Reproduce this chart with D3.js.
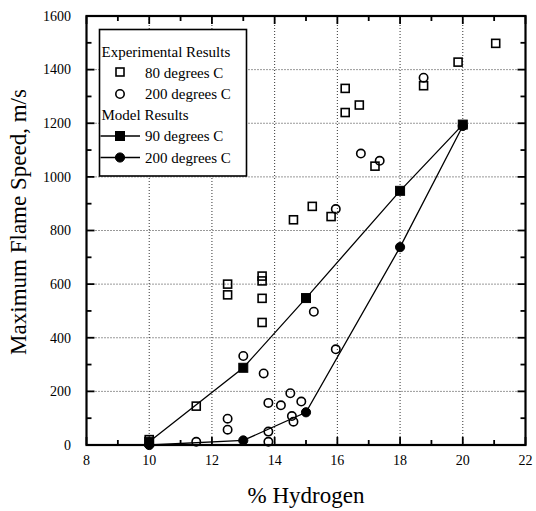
<!DOCTYPE html>
<html>
<head>
<meta charset="utf-8">
<script src="https://cdn.jsdelivr.net/npm/d3@7"></script>
<style>
  body { margin: 0; background: #fff; }
  svg { display: block; font-family: "Liberation Serif", "DejaVu Serif", serif; }
</style>
</head>
<body>
<div id="chart"></div>
<script>
// Experimental results, 80 degrees C (open squares)
const exp80X = [10, 11.5, 12.5, 12.5, 13.6, 13.6, 13.6, 13.6, 14.6, 15.2, 15.8, 16.25, 16.25, 16.7, 17.2, 18.75, 19.85, 21.05];
const exp80Y = [20, 145, 600, 560, 630, 612, 547, 457, 840, 890, 852, 1330, 1240, 1268, 1040, 1340, 1428, 1498];

// Experimental results, 200 degrees C (open circles)
const exp200X = [11.5, 12.5, 12.5, 13.0, 13.65, 13.8, 13.8, 13.8, 14.2, 14.5, 14.85, 14.55, 14.6, 15.25, 15.95, 15.95, 16.75, 17.35, 18.75];
const exp200Y = [12, 98, 57, 332, 267, 157, 50, 12, 148, 193, 162, 108, 87, 497, 357, 880, 1087, 1060, 1370];

// Model results
const model90X = [10, 13, 15, 18, 20];
const model90Y = [12, 288, 548, 948, 1195];
const model200X = [10, 13, 15, 18, 20];
const model200Y = [0, 17, 122, 738, 1190];

const xMajor = [8, 10, 12, 14, 16, 18, 20, 22];
const xMinor = [9, 11, 13, 15, 17, 19, 21];
const yMajor = [0, 200, 400, 600, 800, 1000, 1200, 1400, 1600];
const yMinor = [100, 300, 500, 700, 900, 1100, 1300, 1500];

const W = 536, H = 511;
const pL = 86.5, pR = 525.5, pT = 16, pB = 445;

const svg = d3.select("#chart").append("svg")
    .attr("width", W)
    .attr("height", H);

const x = d3.scaleLinear().domain([8, 22]).range([pL, pR]);
const y = d3.scaleLinear().domain([0, 1600]).range([pB, pT]);

// dotted grid
const grid = svg.append("g")
    .attr("stroke", "#333")
    .attr("stroke-width", 1)
    .attr("stroke-dasharray", "1,2");
grid.selectAll(".gx")
    .data(xMajor.filter(d => d > 8 && d < 22))
    .join("line")
    .attr("class", "gx")
    .attr("x1", d => x(d)).attr("x2", d => x(d))
    .attr("y1", pT).attr("y2", pB);
grid.selectAll(".gy")
    .data(yMajor.filter(d => d > 0 && d < 1600))
    .join("line")
    .attr("class", "gy")
    .attr("x1", pL).attr("x2", pR)
    .attr("y1", d => y(d)).attr("y2", d => y(d));

// inward ticks on all four sides
const ticks = svg.append("g")
    .attr("stroke", "#000")
    .attr("stroke-width", 1.8);
[[xMajor, 8], [xMinor, 5]].forEach(([vals, len]) => {
    vals.forEach(v => {
        ticks.append("line")
            .attr("x1", x(v)).attr("x2", x(v))
            .attr("y1", pB).attr("y2", pB - len);
        ticks.append("line")
            .attr("x1", x(v)).attr("x2", x(v))
            .attr("y1", pT).attr("y2", pT + len);
    });
});
[[yMajor, 8], [yMinor, 5]].forEach(([vals, len]) => {
    vals.forEach(v => {
        ticks.append("line")
            .attr("x1", pL).attr("x2", pL + len)
            .attr("y1", y(v)).attr("y2", y(v));
        ticks.append("line")
            .attr("x1", pR).attr("x2", pR - len)
            .attr("y1", y(v)).attr("y2", y(v));
    });
});

// tick labels
svg.append("g")
    .selectAll("text")
    .data(xMajor)
    .join("text")
    .attr("x", d => x(d))
    .attr("y", 465)
    .attr("text-anchor", "middle")
    .attr("fill", "#000")
    .style("font-size", "14px")
    .text(d => d);
svg.append("g")
    .selectAll("text")
    .data(yMajor)
    .join("text")
    .attr("x", 71)
    .attr("y", d => y(d) + 4.8)
    .attr("text-anchor", "end")
    .attr("fill", "#000")
    .style("font-size", "14px")
    .text(d => d);

// frame
svg.append("rect")
    .attr("x", pL)
    .attr("y", pT)
    .attr("width", pR - pL)
    .attr("height", pB - pT)
    .attr("fill", "none")
    .attr("stroke", "#000")
    .attr("stroke-width", 2.2);

// model lines
const lineGen = d3.line().x(d => x(d[0])).y(d => y(d[1]));
const m90 = model90X.map((d, i) => [d, model90Y[i]]);
const m200 = model200X.map((d, i) => [d, model200Y[i]]);
[m90, m200].forEach(pts => {
    svg.append("path")
        .attr("d", lineGen(pts))
        .attr("fill", "none")
        .attr("stroke", "#000")
        .attr("stroke-width", 1.3);
});

// marker helpers
function square(g, cx, cy, filled) {
    const s = filled ? 9 : 8;
    g.append("rect")
        .attr("x", cx - s / 2)
        .attr("y", cy - s / 2)
        .attr("width", s)
        .attr("height", s)
        .attr("fill", filled ? "#000" : "none")
        .attr("stroke", "#000")
        .attr("stroke-width", filled ? 1 : 1.6);
}
function circle(g, cx, cy, filled) {
    g.append("circle")
        .attr("cx", cx)
        .attr("cy", cy)
        .attr("r", filled ? 4.6 : 4.2)
        .attr("fill", filled ? "#000" : "none")
        .attr("stroke", "#000")
        .attr("stroke-width", filled ? 1 : 1.6);
}

const marks = svg.append("g");
exp80X.forEach((d, i) => square(marks, x(d), y(exp80Y[i]), false));
exp200X.forEach((d, i) => circle(marks, x(d), y(exp200Y[i]), false));
m90.forEach(d => square(marks, x(d[0]), y(d[1]), true));
m200.forEach(d => circle(marks, x(d[0]), y(d[1]), true));

// legend
const lg = svg.append("g");
lg.append("rect")
    .attr("x", 99.5)
    .attr("y", 29.5)
    .attr("width", 147)
    .attr("height", 146.5)
    .attr("fill", "#fff")
    .attr("stroke", "#000")
    .attr("stroke-width", 1.6);

const legendText = (tx, ty, s) => lg.append("text")
    .attr("x", tx)
    .attr("y", ty)
    .attr("fill", "#000")
    .style("font-size", "15px")
    .text(s);

legendText(101.5, 57, "Experimental Results");
square(lg, 120, 72, false);
legendText(145, 77.5, "80 degrees C");
circle(lg, 120, 94, false);
legendText(145, 99, "200 degrees C");
legendText(101.5, 120, "Model Results");
[136, 157.5].forEach(ly => {
    lg.append("line")
        .attr("x1", 100.5).attr("x2", 140)
        .attr("y1", ly).attr("y2", ly)
        .attr("stroke", "#000")
        .attr("stroke-width", 1.3);
});
square(lg, 120, 136, true);
legendText(145, 141, "90 degrees C");
circle(lg, 120, 157.5, true);
legendText(145, 162.5, "200 degrees C");

// axis titles
svg.append("text")
    .attr("x", 306)
    .attr("y", 503)
    .attr("text-anchor", "middle")
    .attr("fill", "#000")
    .style("font-size", "23px")
    .text("% Hydrogen");

svg.append("text")
    .attr("transform", "translate(26,222) rotate(-90)")
    .attr("text-anchor", "middle")
    .attr("fill", "#000")
    .style("font-size", "23px")
    .text("Maximum Flame Speed, m/s");
</script>
</body>
</html>
